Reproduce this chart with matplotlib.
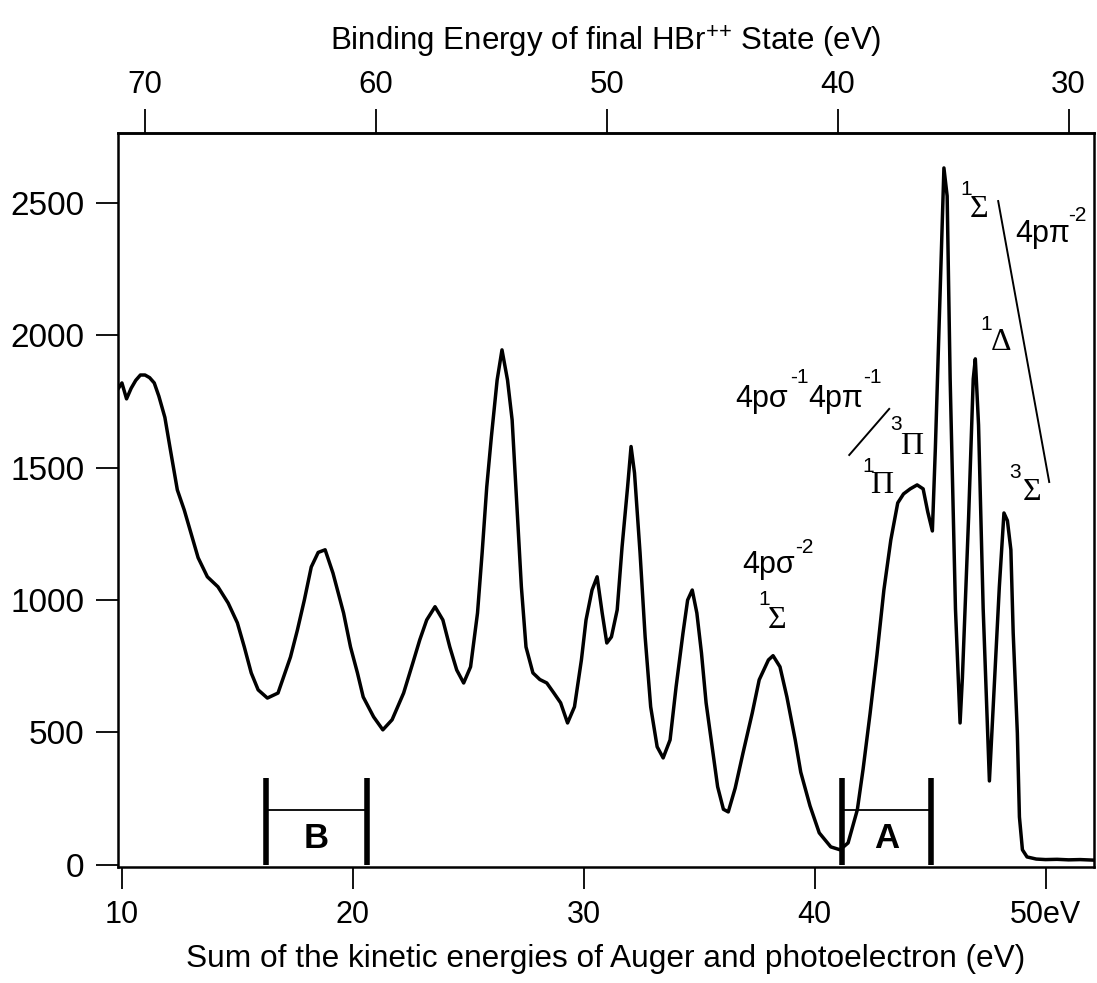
import matplotlib
matplotlib.use("Agg")
import matplotlib.pyplot as plt

plt.rcParams['font.family'] = ['Liberation Sans', 'DejaVu Sans']
plt.rcParams['mathtext.fontset'] = 'custom'
plt.rcParams['mathtext.rm'] = 'Liberation Sans'
plt.rcParams['mathtext.it'] = 'Liberation Sans:italic'

# Sum of kinetic energies (eV) and counts
energy = [9.85, 10.0, 10.2, 10.4, 10.6, 10.8, 11.0, 11.2, 11.4, 11.6, 11.86, 12.1, 12.4, 12.7,
          13.0, 13.3, 13.7, 14.16, 14.6, 15.0, 15.3, 15.6, 15.9, 16.3, 16.76, 17.06, 17.3, 17.6,
          17.9, 18.2, 18.5, 18.8, 19.14, 19.6, 19.9, 20.2, 20.45, 20.9, 21.3, 21.7, 22.2, 22.6,
          22.9, 23.2, 23.56, 23.9, 24.2, 24.5, 24.8, 25.1, 25.4, 25.6, 25.8, 26.0, 26.25, 26.46,
          26.7, 26.9, 27.1, 27.3, 27.5, 27.8, 28.1, 28.4, 28.7, 29.0, 29.3, 29.6, 29.9, 30.1,
          30.36, 30.58, 30.8, 31.0, 31.2, 31.45, 31.66, 31.9, 32.05, 32.2, 32.44, 32.66, 32.9,
          33.18, 33.44, 33.74, 34.0, 34.3, 34.5, 34.7, 34.9, 35.1, 35.3, 35.6, 35.8, 36.05,
          36.26, 36.56, 36.9, 37.3, 37.6, 38.0, 38.2, 38.5, 38.8, 39.16, 39.4, 39.8, 40.2, 40.7,
          41.1, 41.45, 41.85, 42.1, 42.4, 42.7, 43.0, 43.3, 43.6, 43.85, 44.14, 44.44, 44.7,
          44.9, 45.1, 45.23, 45.44, 45.6, 45.74, 45.87, 46.1, 46.3, 46.4, 46.67, 46.87, 46.96,
          47.1, 47.3, 47.57, 47.8, 48.0, 48.2, 48.35, 48.5, 48.6, 48.78, 48.87, 49.0, 49.2,
          49.6, 50.0, 50.5, 51.0, 51.5, 52.07]
counts = [1800, 1820, 1760, 1800, 1830, 1850, 1850, 1840, 1820, 1770, 1690, 1567, 1416, 1340,
          1250, 1160, 1088, 1050, 989, 914, 823, 725, 661, 630, 649, 725, 785, 887,
          1000, 1125, 1180, 1190, 1102, 951, 823, 725, 634, 559, 510, 548, 649, 763,
          850, 925, 975, 925, 823, 736, 687, 748, 951, 1178, 1427, 1616, 1831, 1945,
          1831, 1680, 1367, 1050, 823, 725, 700, 687, 650, 612, 536, 597, 774, 925,
          1038, 1088, 951, 838, 861, 963, 1200, 1427, 1580, 1480, 1178, 861, 597,
          446, 404, 472, 672, 876, 1000, 1038, 951, 800, 612, 423, 295, 210,
          200, 290, 423, 574, 699, 774, 790, 748, 634, 472, 350, 223, 121, 68,
          57, 83, 208, 362, 570, 793, 1038, 1227, 1367, 1401, 1420, 1435, 1420,
          1333, 1261, 1575, 2179, 2632, 2526, 1835, 967, 536, 706, 1314, 1835, 1911,
          1661, 967, 317, 706, 1050, 1329, 1300, 1190, 876, 498, 181, 57, 30,
          22, 20, 21, 19, 20, 18]

x_ticks = [10, 20, 30, 40, 50]
x_tick_labels = ["10", "20", "30", "40", "50eV"]
y_ticks = [0, 500, 1000, 1500, 2000, 2500]
top_ticks = [70, 60, 50, 40, 30]
photon_offset = 81.0  # binding energy = 81 - kinetic sum

# Energy windows A and B
window_names = ["B", "A"]
window_lo = [16.22, 41.2]
window_hi = [20.62, 45.05]

fig = plt.figure(figsize=(10.97, 9.83), dpi=100)
ax = fig.add_axes([118/1097, 116/983, 976/1097, 734/983])

ax.plot(energy, counts, color='black', lw=2.5, solid_joinstyle='round')

ax.set_xlim(9.83, 52.1)
ax.set_ylim(-8, 2764)

ax.set_xticks(x_ticks)
ax.set_xticklabels(x_tick_labels)
ax.set_yticks(y_ticks)
for s in ax.spines.values():
    s.set_linewidth(1.8)
ax.tick_params(axis='both', direction='out', length=16, width=1.3, labelsize=22, pad=9)
ax.tick_params(axis='y', labelsize=24, pad=8)
ax.tick_params(axis='x', pad=8)

sec = ax.secondary_xaxis('top', functions=(lambda v: photon_offset - v, lambda v: photon_offset - v))
sec.set_xticks(top_ticks)
sec.tick_params(direction='out', length=17, width=1.3, labelsize=22.5, pad=7)
sec.spines['top'].set_linewidth(1.8)
sec.set_xlabel(r"Binding Energy of final HBr$^{{+}{+}}$ State (eV)", fontsize=22.5, labelpad=14)

ax.set_xlabel("Sum of the kinetic energies of Auger and photoelectron (eV)", fontsize=22.8, labelpad=10)

# Energy windows
for name, lo, hi in zip(window_names, window_lo, window_hi):
    ax.plot([lo, lo], [0, 330], color='black', lw=4, solid_capstyle='butt')
    ax.plot([hi, hi], [0, 330], color='black', lw=4, solid_capstyle='butt')
    ax.plot([lo, hi], [208, 208], color='black', lw=1.3)
    ax.text((lo + hi) / 2, 100, name, fontsize=25, fontweight='bold', ha='center', va='center')

serif = 'Liberation Serif'
msz = 22
ssz = 15

def piece(x, y, s, size, fam=None):
    kw = {}
    if fam:
        kw['family'] = fam
    ax.text(x, y, s, fontsize=size, ha='left', va='baseline', **kw)

# 4p pi^-2 group
piece(48.69, 2352, "4pπ", msz)
piece(50.99, 2432, "-2", ssz)
piece(46.31, 2530, "1", ssz)
piece(46.74, 2447, "Σ", msz + 1, serif)
ax.plot([47.95, 50.16], [2507, 1446], color='black', lw=1.4)
piece(47.17, 2020, "1", ssz)
piece(47.61, 1945, "Δ", msz + 1, serif)
piece(48.43, 1461, "3", ssz)
piece(49.0, 1378, "Σ", msz + 1, serif)

# 4p sigma^-1 4p pi^-1 group
piece(36.56, 1729, "4pσ", msz)
piece(38.94, 1820, "-1", ssz)
piece(39.72, 1729, "4pπ", msz)
piece(42.1, 1820, "-1", ssz)
ax.plot([41.50, 43.23], [1548, 1722], color='black', lw=1.4)
piece(43.28, 1643, "3", ssz)
piece(43.71, 1552, "Π", msz + 1, serif)
piece(42.06, 1484, "1", ssz)
piece(42.41, 1405, "Π", msz + 1, serif)

# 4p sigma^-2
piece(36.86, 1103, "4pσ", msz)
piece(39.16, 1178, "-2", ssz)
piece(37.56, 982, "1", ssz)
piece(37.96, 895, "Σ", msz + 1, serif)

fig.savefig("out.png", dpi=100)
